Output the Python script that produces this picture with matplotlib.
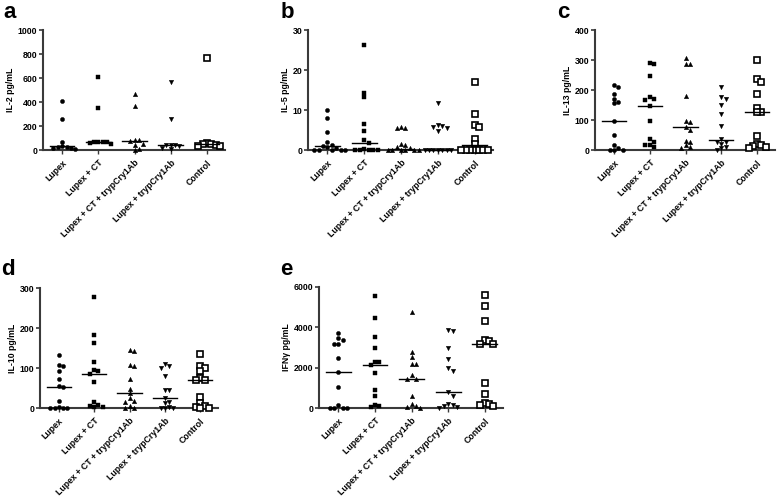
import numpy as np
import matplotlib
matplotlib.use("Agg")
import matplotlib.pyplot as plt

plt.rcParams['font.family'] = ['Liberation Sans', 'DejaVu Sans']
plt.rcParams['font.weight'] = 'bold'

groups = ['Lupex', 'Lupex + CT', 'Lupex + CT + trypCry1Ab',
          'Lupex + trypCry1Ab', 'Control']

# values (pg/mL)
il2 = [
    [410, 255, 70, 30, 28, 20, 10, 25, 15],
    [610, 350, 70, 70, 65, 60, 70, 50],
    [465, 365, 80, 80, 50, 40, 75, 10, 0],
    [570, 260, 45, 40, 30, 20, 10, 45],
    [765, 50, 45, 30, 30, 55, 50],
]
il2_med = [30, 70, 75, 45, 50]

il5 = [
    [10, 8, 4.5, 2, 1.2, 1, 0.8, 0.5, 0, 0, 0, 0, 0],
    [26.2, 14.3, 13.2, 6.6, 4.8, 2.5, 1.8, 0.3, 0, 0, 0, 0, 0],
    [5.8, 5.5, 5.5, 1.2, 1.5, 0.8, 0.5, 0, 0, 0, 0, 0, 0],
    [11.8, 6.2, 6.0, 5.5, 4.8, 5.8, 0, 0, 0, 0, 0, 0, 0],
    [17.1, 8.9, 6.2, 5.8, 2.7, 1.4, 0, 0, 0, 0, 0, 0, 0],
]
il5_med = [0.9, 1.7, 0.3, 0.0, 1.3]

il13 = [
    [215, 210, 185, 170, 160, 155, 95, 50, 15, 5, 0, 0, 0],
    [290, 288, 245, 175, 170, 165, 145, 98, 35, 25, 15, 15, 10],
    [305, 288, 288, 180, 98, 92, 78, 65, 30, 25, 15, 10, 5],
    [210, 178, 170, 150, 120, 80, 35, 28, 25, 20, 10, 5, 0],
    [300, 235, 228, 188, 140, 128, 125, 45, 20, 15, 10, 8, 12],
]
il13_med = [95, 145, 78, 33, 125]

il10 = [
    [132, 108, 105, 92, 72, 55, 53, 17, 2, 0, 0, 0, 0],
    [277, 183, 163, 116, 95, 92, 85, 65, 15, 5, 3, 3, 8],
    [145, 143, 107, 106, 72, 48, 37, 25, 15, 17, 5, 0, 0],
    [110, 105, 100, 80, 45, 45, 25, 15, 13, 3, 0, 0, 0],
    [135, 105, 100, 92, 75, 70, 70, 28, 12, 5, 3, 0, 0],
]
il10_med = [53, 85, 37, 25, 70]

ifng = [
    [3700, 3450, 3350, 3150, 3150, 2500, 1800, 1050, 150, 0, 0, 0, 0],
    [5550, 4450, 3520, 3000, 2280, 2270, 2150, 1750, 900, 580, 150, 100, 50],
    [4750, 2800, 2550, 2200, 2200, 1650, 1450, 1450, 600, 200, 100, 50, 0],
    [3850, 3800, 3000, 2450, 2000, 1850, 800, 600, 200, 150, 100, 50, 0],
    [5600, 5050, 4300, 3350, 3300, 3150, 3150, 1250, 700, 250, 150, 100, 200],
]
ifng_med = [1800, 2150, 1450, 800, 3150]

markers = [
    dict(marker='o', ms=3.0, mfc='black', mec='black', mew=0.3),
    dict(marker='s', ms=3.0, mfc='black', mec='black', mew=0.3),
    dict(marker='^', ms=3.2, mfc='black', mec='black', mew=0.3),
    dict(marker='v', ms=3.2, mfc='black', mec='black', mew=0.3),
    dict(marker='s', ms=4.6, mfc='white', mec='black', mew=1.2),
]

panels = [
    ('a', il2, il2_med, 'IL-2 pg/mL', 1000, [0, 200, 400, 600, 800, 1000], [43, 225, 30, 150], (3, 18)),
    ('b', il5, il5_med, 'IL-5 pg/mL', 30, [0, 10, 20, 30], [308, 493, 30, 150], (281, 18)),
    ('c', il13, il13_med, 'IL-13 pg/mL', 400, [0, 100, 200, 300, 400], [595, 775, 30, 150], (557, 18)),
    ('d', il10, il10_med, 'IL-10 pg/mL', 300, [0, 100, 200, 300], [40, 218, 288, 408], (1, 275)),
    ('e', ifng, ifng_med, 'IFNγ pg/mL', 6000, [0, 2000, 4000, 6000], [319, 503, 287, 408], (280, 275)),
]

W, H = 778, 498
fig = plt.figure(figsize=(W / 100, H / 100), dpi=100)


def swarm(vals, sx, sy, diam=4.2, step=0.12):
    # spread points sideways so they don't overlap (px based)
    placed = []
    for v in sorted(vals, reverse=True):
        k = 0
        while True:
            n = (k + 1) // 2
            cand = n * step if k % 2 == 1 else -n * step
            ok = all(np.hypot((cand - px) * sx, (v - py) * sy) >= diam
                     for px, py in placed)
            if ok:
                placed.append((cand, v))
                break
            k += 1
    return placed


for letter, data, meds, ylabel, ymax, yt, (l, r, t, b), (lx, ly) in panels:
    ax = fig.add_axes([l / W, 1 - b / H, (r - l) / W, (b - t) / H])
    xmin, xmax = -0.53, 4.5
    ax.set_xlim(xmin, xmax)
    ax.set_ylim(0, ymax)
    sx = (r - l) / (xmax - xmin)
    sy = (b - t) / ymax
    for i, vals in enumerate(data):
        pts = swarm(vals, sx, sy)
        xs = [i + p[0] for p in pts]
        ys = [p[1] for p in pts]
        ax.plot(xs, ys, ls='none', clip_on=False, zorder=3, **markers[i])
        ax.plot([i - 0.34, i + 0.34], [meds[i], meds[i]], color='black',
                lw=1.0, zorder=4, clip_on=False)
    for s in ['top', 'right']:
        ax.spines[s].set_visible(False)
    for s in ['left', 'bottom']:
        ax.spines[s].set_color('#3a3a3a')
        ax.spines[s].set_linewidth(1.5)
    ax.set_yticks(yt)
    ax.set_xticks(range(len(groups)))
    ax.set_xticklabels(groups, rotation=45, ha='right', rotation_mode='anchor',
                       fontsize=6.3, fontweight='bold')
    ax.tick_params(axis='y', labelsize=6.3, length=3, width=1.2, color='#3a3a3a', pad=1)
    ax.tick_params(axis='x', length=3, width=1.0, color='#3a3a3a', pad=3)
    for lab in ax.get_yticklabels():
        lab.set_fontweight('bold')
    ax.set_ylabel(ylabel, fontsize=6.3, fontweight='bold', labelpad=2)
    fig.text(lx / W, 1 - ly / H, letter, fontsize=16, fontweight='bold',
             va='baseline', ha='left')

fig.savefig('out.png', dpi=100)
